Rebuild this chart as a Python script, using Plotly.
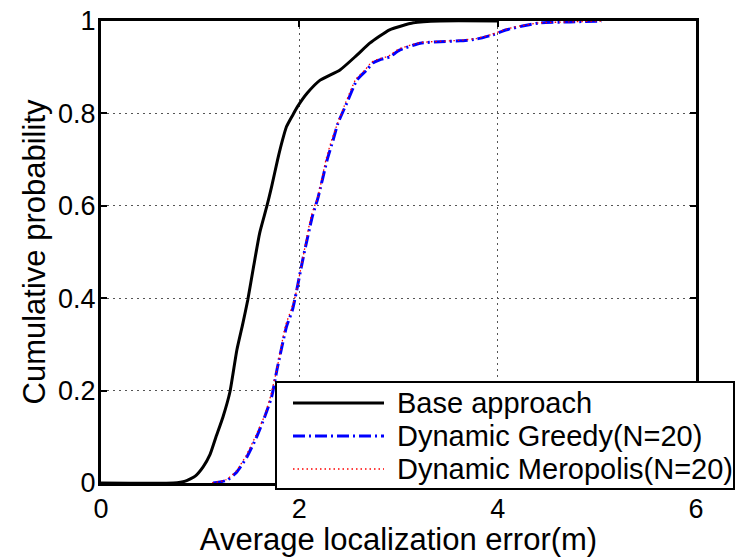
import plotly.graph_objects as go

# Empirical CDFs of the average localization error (m)
base_x = [0.00, 0.73, 0.85, 0.95, 1.03, 1.10, 1.16, 1.23, 1.30, 1.37, 1.43, 1.48, 1.54, 1.60, 1.67,
          1.72, 1.78, 1.83, 1.87, 1.93, 1.98, 2.08, 2.21, 2.41, 2.58, 2.71, 2.91, 3.15, 3.42, 4.00]
base_y = [0.000, 0.000, 0.004, 0.015, 0.035, 0.062, 0.100, 0.143, 0.197, 0.288, 0.345, 0.396, 0.470, 0.541, 0.597,
          0.641, 0.699, 0.742, 0.771, 0.795, 0.814, 0.844, 0.872, 0.894, 0.926, 0.952, 0.981, 0.996, 1.000, 1.000]

greedy_x = [1.13, 1.27, 1.37, 1.47, 1.57, 1.65, 1.72, 1.78, 1.87, 1.93, 1.96, 2.04, 2.13, 2.19,
            2.28, 2.34, 2.39, 2.48, 2.58, 2.68, 2.74, 2.81, 2.91, 3.01, 3.22, 3.42, 3.62, 3.79,
            3.95, 4.09, 4.25, 4.43, 4.73, 5.05]
greedy_y = [0.000, 0.006, 0.024, 0.056, 0.100, 0.143, 0.186, 0.251, 0.338, 0.374, 0.403, 0.489, 0.576, 0.619,
            0.699, 0.742, 0.779, 0.823, 0.872, 0.894, 0.909, 0.916, 0.922, 0.937, 0.952, 0.955, 0.957, 0.961,
            0.970, 0.981, 0.989, 0.996, 0.998, 1.000]

metro_x = [1.12, 1.26, 1.36, 1.46, 1.56, 1.65, 1.71, 1.78, 1.86, 1.92, 1.96, 2.04, 2.12, 2.19,
           2.27, 2.33, 2.39, 2.47, 2.57, 2.67, 2.73, 2.80, 2.90, 3.00, 3.21, 3.41, 3.61, 3.78,
           3.94, 4.08, 4.24, 4.42, 4.72, 5.05]
metro_y = [0.000, 0.007, 0.025, 0.058, 0.102, 0.146, 0.188, 0.253, 0.340, 0.377, 0.405, 0.492, 0.578, 0.622,
           0.701, 0.745, 0.781, 0.825, 0.874, 0.896, 0.911, 0.918, 0.924, 0.939, 0.953, 0.956, 0.958, 0.962,
           0.971, 0.982, 0.990, 0.996, 0.998, 1.000]

series_names = ["Base approach", "Dynamic Greedy(N=20)", "Dynamic Meropolis(N=20)"]
x_ticks = [0, 2, 4, 6]
x_tick_text = ["0", "2", "4", "6"]
y_ticks = [0, 0.2, 0.4, 0.6, 0.8, 1.0]
y_tick_text = ["0", "0.2", "0.4", "0.6", "0.8", "1"]

FONT = "Liberation Sans, Arial, Helvetica, sans-serif"
styles = [
    dict(color="black", width=3, dash="solid"),
    dict(color="#0000ff", width=3, dash="12px,4px,2px,4px"),
    dict(color="#ff0000", width=1.3, dash="1.5px,3px"),
]

fig = go.Figure()
for name, xs, ys, st in zip(series_names, [base_x, greedy_x, metro_x],
                            [base_y, greedy_y, metro_y], styles):
    fig.add_trace(go.Scatter(x=xs, y=ys, mode="lines", name=name,
                             line=dict(st, shape="spline", smoothing=0.5),
                             showlegend=False))

# Plot-area geometry in pixels (used to place the boxed legend)
W, H = 735, 557
L, R, T, B = 101, 39, 21, 74
pw, ph = W - L - R, H - T - B

def px(xp):
    return (xp - L) / pw

def py(yp):
    return (H - B - yp) / ph

shapes = [dict(type="rect", xref="paper", yref="paper",
               x0=px(276), x1=px(734), y0=py(489), y1=py(382),
               line=dict(color="black", width=2), fillcolor="white", layer="above")]
annotations = []
rows = [403, 436, 469]
for name, st, row in zip(series_names, styles, rows):
    shapes.append(dict(type="line", xref="paper", yref="paper",
                       x0=px(293), x1=px(384), y0=py(row), y1=py(row),
                       line=dict(color=st["color"], width=st["width"], dash=st["dash"]),
                       layer="above"))
    annotations.append(dict(xref="paper", yref="paper", x=px(395), y=py(row),
                            xanchor="left", yanchor="middle", showarrow=False,
                            text=name, font=dict(family=FONT, size=29, color="black")))

axis_common = dict(showline=True, linecolor="black", linewidth=3, mirror="ticks",
                   ticks="inside", ticklen=6, tickwidth=2, tickcolor="black",
                   showgrid=True, gridcolor="#555555", gridwidth=1, griddash="1.5px,4.5px",
                   zeroline=False, tickfont=dict(family=FONT, size=27, color="black"))

fig.update_layout(
    width=W, height=H,
    margin=dict(l=L, r=R, t=T, b=B, autoexpand=False),
    paper_bgcolor="white", plot_bgcolor="white",
    font=dict(family=FONT, color="black"),
    xaxis=dict(range=[0, 6], tickvals=x_ticks, ticktext=x_tick_text,
               title=dict(text="Average localization error(m)",
                          font=dict(family=FONT, size=31), standoff=0),
               **axis_common),
    yaxis=dict(range=[0, 1], tickvals=y_ticks, ticktext=y_tick_text,
               ticklabelstandoff=-3,
               title=dict(text="Cumulative probability",
                          font=dict(family=FONT, size=31), standoff=4),
               **axis_common),
    shapes=shapes, annotations=annotations,
)

fig.write_html("out.html")
